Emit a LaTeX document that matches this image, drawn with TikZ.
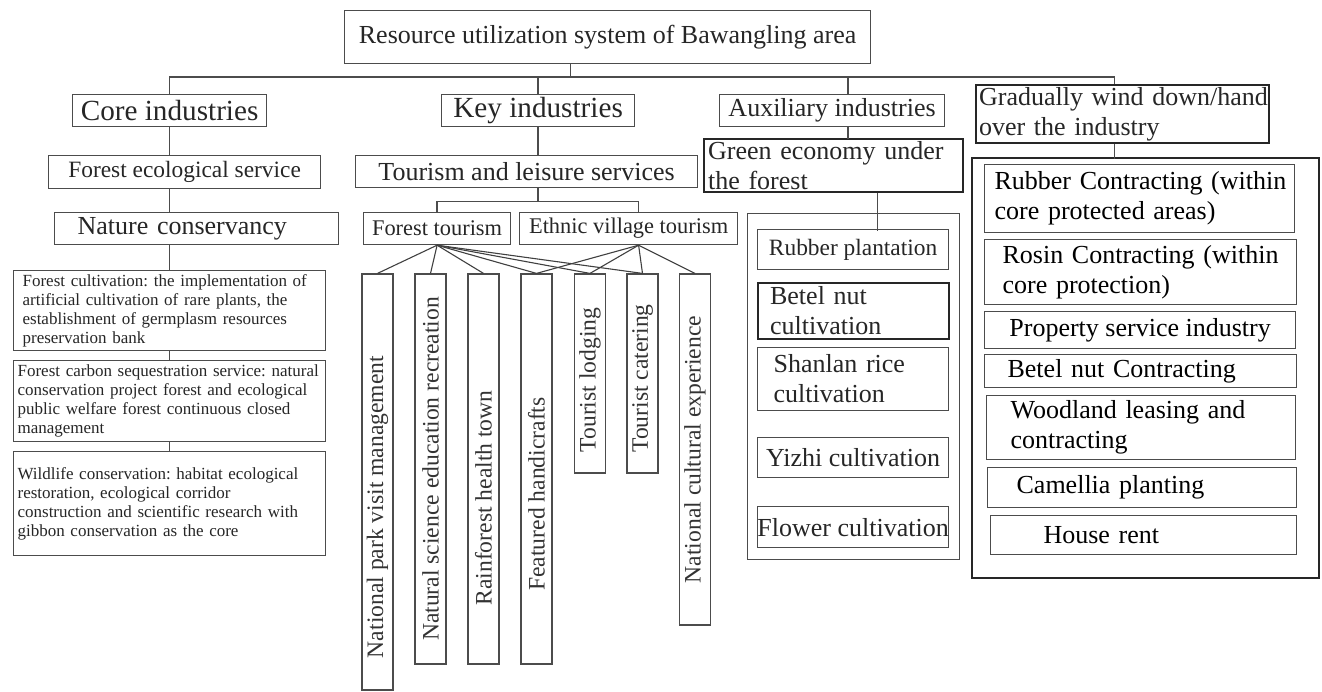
\documentclass[tikz,border=0pt]{standalone}
\usepackage{fontspec}
\setmainfont{Liberation Serif}
\frenchspacing
\newlength{\px}\setlength{\px}{0.5pt}

\begin{document}
\begin{tikzpicture}[
    x=0.5pt, y=-0.5pt,
    box/.style={draw=black!70, line width=0.6pt, rectangle, inner sep=0pt,
      anchor=north west, text=black!85},
    lbox/.style={box, align=left},
    thickbox/.style={draw=black!85, line width=1.1pt},
    wbit/.style={lbox, fmid, text=black},
    vbox/.style={draw=black!70, line width=0.6pt, rotate=90, inner sep=0pt,
      minimum height=31\px, text=black!80, fvert},
    link/.style={draw=black!70, line width=0.7pt},
    fan/.style={draw=black!75, line width=0.55pt},
    fbig/.style={font=\fontsize{14.6}{17}\selectfont},
    fmid/.style={font=\fontsize{13}{15}\selectfont},
    fsec/.style={font=\fontsize{11.7}{14}\selectfont},
    fsub/.style={font=\fontsize{11.2}{13}\selectfont},
    fsmall/.style={font=\fontsize{8.5}{9.5}\selectfont},
    fvert/.style={font=\fontsize{11.8}{14}\selectfont}]

  \useasboundingbox (0,0) rectangle (1322,691);

  % ---- top -----------------------------------------------------------------
  \node[box, fmid, minimum width=526\px, minimum height=53\px] (root) at (344,10)
    {Resource utilization system of Bawangling area};

  % ---- the four industry groups ---------------------------------------------
  \node[box, fbig, minimum width=194\px, minimum height=32\px] (core) at (72,94) {Core industries};
  \node[box, fbig, minimum width=193\px, minimum height=32\px] (key) at (441,94) {Key industries};
  \node[box, fmid, minimum width=225\px, minimum height=32\px] (aux) at (719,94) {Auxiliary industries};
  \node[lbox, thickbox, fmid, minimum width=293\px, minimum height=58\px,
        inner xsep=3\px, text width=287\px] (grad) at (975,84)
    {\mbox{Gradually wind down/hand}\\\mbox{over the industry}};

  % ---- core column ----------------------------------------------------------
  \node[box, fsec, minimum width=272\px, minimum height=33\px] (feco) at (48,155) {Forest ecological service};
  \node[lbox, fmid, minimum width=284\px, minimum height=32\px,
        inner xsep=23\px, text width=238\px] (natc) at (54,212) {Nature conservancy};
  \node[lbox, fsmall, minimum width=312\px, minimum height=80\px,
        inner xsep=9\px, text width=294\px] (fcul) at (13,270)
    {\mbox{Forest cultivation: the implementation of}\\
     \mbox{artificial cultivation of rare plants, the}\\
     \mbox{establishment of germplasm resources}\\
     \mbox{preservation bank}};
  \node[lbox, fsmall, minimum width=312\px, minimum height=81\px,
        inner xsep=4\px, text width=304\px] (fcar) at (13,360)
    {\mbox{Forest carbon sequestration service: natural}\\
     \mbox{conservation project forest and ecological}\\
     \mbox{public welfare forest continuous closed}\\
     \mbox{management}};
  \node[lbox, fsmall, minimum width=312\px, minimum height=104\px,
        inner xsep=4\px, text width=304\px] (wild) at (13,451)
    {\mbox{Wildlife conservation: habitat ecological}\\
     \mbox{restoration, ecological corridor}\\
     \mbox{construction and scientific research with}\\
     \mbox{gibbon conservation as the core}};

  % ---- key column -----------------------------------------------------------
  \node[box, fmid, minimum width=342\px, minimum height=32\px] (tour) at (355,155) {Tourism and leisure services};
  \node[box, fsub, minimum width=147\px, minimum height=32\px] (ftour) at (363,212) {Forest tourism};
  \node[box, fsub, minimum width=218\px, minimum height=32\px] (ethn) at (519,212) {Ethnic village tourism};

  \node[vbox, minimum width=416\px] (npark) at (377.5,482) {\hspace*{-50\px}National park visit management};
  \node[vbox, minimum width=390\px] (nsci)  at (430.5,469) {Natural science education recreation};
  \node[vbox, minimum width=390\px] (rain)  at (483.5,469) {\hspace*{-58\px}Rainforest health town};
  \node[vbox, minimum width=390\px] (hand)  at (536.5,469) {\hspace*{-50\px}Featured handicrafts};
  \node[vbox, minimum width=199\px] (lodg)  at (590,373.5) {\hspace*{-13\px}Tourist lodging};
  \node[vbox, minimum width=199\px] (cate)  at (642.5,373.5) {\hspace*{-10\px}Tourist catering};
  \node[vbox, minimum width=351\px] (ncul)  at (695,449.5) {National cultural experience};

  % ---- auxiliary column -----------------------------------------------------
  \node[lbox, thickbox, fmid, minimum width=259\px, minimum height=53\px,
        inner xsep=4\px, text width=251\px] (green) at (703,138)
    {\mbox{Green economy under}\\\mbox{the forest}};
  \node[box, minimum width=212\px, minimum height=346\px] (gbox) at (747,213) {};
  \node[box, fsec, minimum width=191\px, minimum height=40\px] (rubp) at (757,229) {Rubber plantation};
  \node[lbox, thickbox, fmid, minimum width=191\px, minimum height=56\px,
        inner xsep=12\px, text width=167\px] (betc) at (757,282) {Betel nut\\cultivation};
  \node[lbox, fmid, minimum width=191\px, minimum height=63\px,
        inner xsep=16\px, text width=159\px] (shan) at (757,347) {Shanlan rice\\cultivation};
  \node[box, fmid, minimum width=191\px, minimum height=40\px] (yizh) at (757,437) {Yizhi cultivation};
  \node[box, fmid, minimum width=191\px, minimum height=41\px] (flow) at (757,506)
    {\makebox[0pt]{Flower cultivation}};

  % ---- wind-down column -----------------------------------------------------
  \node[box, thickbox, minimum width=347\px, minimum height=420\px] (wbox) at (971,157) {};
  \node[wbit, minimum width=310\px, minimum height=68\px, inner xsep=10\px, text width=290\px]
    (rubc) at (984,164) {\mbox{Rubber Contracting (within}\\\mbox{core protected areas)}};
  \node[wbit, minimum width=312\px, minimum height=65\px, inner xsep=18\px, text width=276\px]
    (rosn) at (984,239) {\mbox{Rosin Contracting (within}\\\mbox{core protection)}};
  \node[box, fmid, text=black, minimum width=311\px, minimum height=37\px]
    (prop) at (984,311) {Property service industry};
  \node[wbit, minimum width=312\px, minimum height=33\px, inner xsep=23\px, text width=266\px]
    (betk) at (984,354) {\mbox{Betel nut Contracting}};
  \node[wbit, minimum width=309\px, minimum height=64\px, inner xsep=24\px, text width=261\px]
    (wood) at (986,395) {\mbox{Woodland leasing and}\\\mbox{contracting}};
  \node[wbit, minimum width=309\px, minimum height=40\px, inner xsep=29\px, text width=251\px]
    (came) at (987,467) {Camellia planting};
  \node[wbit, minimum width=306\px, minimum height=39\px, inner xsep=53\px, text width=200\px]
    (hous) at (990,515) {House rent};

  % ---- connectors -----------------------------------------------------------
  \draw[link] ([xshift=-37\px]root.south) -- ++(0,14);
  \draw[link] (core.north) -- ++(0,-17) -| ([xshift=-8\px]grad.north);
  \draw[link] (key.north) -- ++(0,-17);
  \draw[link] ([xshift=16\px]aux.north) -- ++(0,-17);

  \foreach \a/\b in {core/feco, feco/natc, natc/fcul, fcul/fcar, fcar/wild}
    \draw[link] (\a.south -| core) -- (\b.north -| core);

  \draw[link] (key.south) -- (key.south |- tour.north);
  \draw[link] (tour.south -| key) -- ++(0,13) coordinate (fork);
  \draw[link] (ftour.north) |- (fork) -| ([xshift=10\px]ethn.north);
  \foreach \b in {npark,nsci,rain,hand,lodg,cate}
    \draw[fan] (ftour.south) -- (\b.east);
  \foreach \b in {hand,lodg,cate,ncul}
    \draw[fan] ([xshift=10\px]ethn.south) -- (\b.east);

  \draw[link] ([xshift=16\px]aux.south) -- ++(0,12);
  \draw[link] ([xshift=44\px]green.south) -- ++(0,38);
  \draw[link] ([xshift=-8\px]grad.south) -- ++(0,15);

\end{tikzpicture}
\end{document}
